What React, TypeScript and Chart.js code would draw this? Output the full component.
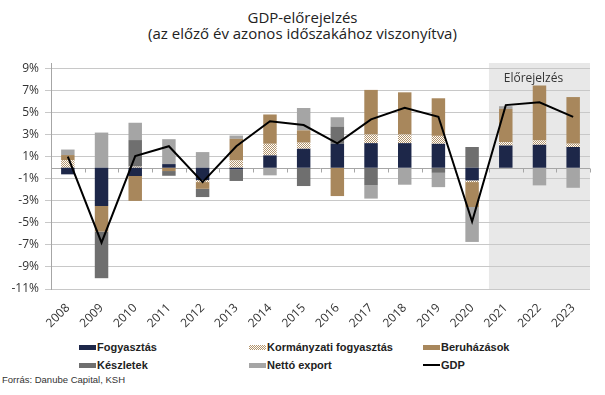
import React, { useEffect, useRef } from 'react';
import { Chart, registerables } from 'chart.js';

Chart.register(...registerables);

const years = ['2008', '2009', '2010', '2011', '2012', '2013', '2014', '2015', '2016', '2017', '2018', '2019', '2020', '2021', '2022', '2023'];
const fogyasztas = [-0.6, -3.47, -0.75, 0.33, -1.12, -0.15, 1.12, 1.72, 2.17, 2.23, 2.23, 2.17, -1.15, 2.02, 2.08, 1.88];
const kormanyzati = [0.69, 0, 0.1, 0, -0.18, 0.66, 1.05, 0.55, 0, 0.78, 0.78, 0.72, -0.15, 0.3, 0.4, 0.3];
const beruhazasok = [0.46, -2.32, -2.26, -0.3, -0.61, 1.96, 2.66, 1.12, -2.57, 4.05, 3.83, 3.41, -2.26, 3.02, 4.98, 4.23];
const keszletek = [0, -4.23, 2.41, -0.43, -0.75, -1.05, 0, -1.66, 1.57, -1.6, 0, -0.46, 1.88, 0, 0, 0];
const nettoExport = [0.5, 3.19, 1.57, 2.26, 1.42, 0.3, -0.69, 2.03, 0.84, -1.2, -1.54, -1.3, -3.17, 0.24, -1.6, -1.82];
const gdp = [1.0, -6.8, 1.05, 1.95, -1.3, 1.95, 4.22, 3.87, 2.22, 4.39, 5.44, 4.62, -4.88, 5.68, 5.93, 4.62];
const yTicks = [9, 7, 5, 3, 1, -1, -3, -5, -7, -9, -11];
const forecastFrom = '2021';
const forecastLabel = 'Előrejelzés';

const NAVY = '#1d2749';
const TAN = '#a8875c';
const DARK = '#6f6f6f';
const LIGHT = '#a5a5a5';
const FONT = "'Open Sans', 'DejaVu Sans', sans-serif";
const LEG_FONT = "'Liberation Sans', Arial, sans-serif";

function makeHatch(): CanvasPattern | string {
  const c = document.createElement('canvas');
  c.width = 2;
  c.height = 2;
  const g = c.getContext('2d');
  if (!g) return '#d9c6ab';
  g.fillStyle = '#ffffff';
  g.fillRect(0, 0, 2, 2);
  g.fillStyle = '#b3946b';
  g.fillRect(0, 0, 1, 1);
  g.fillRect(1, 1, 1, 1);
  const p = g.createPattern(c, 'repeat');
  return p || '#d9c6ab';
}

const forecastPlugin = {
  id: 'forecastShade',
  beforeDraw(chart: any) {
    const { ctx, chartArea, scales } = chart;
    const x = scales.x;
    const idx = years.indexOf(forecastFrom);
    const left = (x.getPixelForValue(idx - 1) + x.getPixelForValue(idx)) / 2;
    ctx.save();
    ctx.fillStyle = '#e8e8e8';
    ctx.fillRect(left, chartArea.top, chartArea.right - left, chartArea.bottom - chartArea.top);
    ctx.restore();
  },
  afterDatasetsDraw(chart: any) {
    const { ctx, chartArea, scales } = chart;
    const x = scales.x;
    const idx = years.indexOf(forecastFrom);
    const left = (x.getPixelForValue(idx - 1) + x.getPixelForValue(idx)) / 2;
    ctx.save();
    ctx.fillStyle = '#333333';
    ctx.font = `12px ${FONT}`;
    ctx.textAlign = 'center';
    ctx.textBaseline = 'middle';
    ctx.fillText(forecastLabel, (left + chartArea.right) / 2 - 6, chartArea.top + 16);
    ctx.restore();
  },
};

const zeroLinePlugin = {
  id: 'zeroLine',
  beforeDatasetsDraw(chart: any) {
    const { ctx, chartArea, scales } = chart;
    const y0 = Math.round(scales.y.getPixelForValue(0)) + 0.5;
    const x = scales.x;
    ctx.save();
    ctx.strokeStyle = '#a6a6a6';
    ctx.lineWidth = 1;
    ctx.beginPath();
    ctx.moveTo(chartArea.left, y0);
    ctx.lineTo(chartArea.right, y0);
    for (let i = 0; i <= years.length; i++) {
      let bx: number;
      if (i === 0) bx = chartArea.left;
      else if (i === years.length) bx = chartArea.right;
      else bx = (x.getPixelForValue(i - 1) + x.getPixelForValue(i)) / 2;
      bx = Math.round(bx) + 0.5;
      ctx.moveTo(bx, y0);
      ctx.lineTo(bx, y0 + 4);
    }
    ctx.stroke();
    ctx.restore();
  },
};

export default function App() {
  const ref = useRef<HTMLCanvasElement | null>(null);
  const hatchRef = useRef<HTMLSpanElement | null>(null);

  useEffect(() => {
    if (!ref.current) return;
    const hatch = makeHatch();
    const chart = new Chart(ref.current, {
      type: 'bar',
      data: {
        labels: years,
        datasets: [
          {
            type: 'line',
            label: 'GDP',
            data: gdp,
            borderColor: '#000000',
            backgroundColor: '#000000',
            borderWidth: 2,
            pointRadius: 0,
            tension: 0,
            fill: false,
            stack: 'gdp',
            order: 0,
          } as any,
          { label: 'Fogyasztás', data: fogyasztas, backgroundColor: NAVY, stack: 's', order: 1 },
          { label: 'Kormányzati fogyasztás', data: kormanyzati, backgroundColor: hatch as any, stack: 's', order: 1 },
          { label: 'Beruházások', data: beruhazasok, backgroundColor: TAN, stack: 's', order: 1 },
          { label: 'Készletek', data: keszletek, backgroundColor: DARK, stack: 's', order: 1 },
          { label: 'Nettó export', data: nettoExport, backgroundColor: LIGHT, stack: 's', order: 1 },
        ],
      },
      options: {
        responsive: false,
        animation: false,
        layout: { padding: { top: 63, right: 15, left: 0, bottom: 0 } },
        datasets: { bar: { barPercentage: 0.4, categoryPercentage: 1.0 } },
        plugins: {
          legend: { display: false },
          title: { display: false },
          tooltip: { enabled: false },
        },
        scales: {
          x: {
            stacked: true,
            grid: { display: false },
            border: { display: false },
            ticks: {
              minRotation: 45,
              maxRotation: 45,
              autoSkip: false,
              padding: 4,
              color: '#333333',
              font: { size: 12, family: FONT },
            },
            afterFit: (s: any) => {
              s.height = 46;
            },
          },
          y: {
            stacked: true,
            min: -11,
            max: 9.5,
            afterBuildTicks: (s: any) => {
              s.ticks = yTicks.map((v) => ({ value: v }));
            },
            grid: { color: '#c8c8c8', tickLength: 6, lineWidth: 1 },
            border: { color: '#a6a6a6' },
            ticks: {
              padding: 6,
              color: '#333333',
              font: { size: 12, family: FONT },
              callback: (v: any) => `${v}%`,
            },
            afterFit: (s: any) => {
              s.width = 51;
            },
          },
        },
      },
      plugins: [forecastPlugin, zeroLinePlugin],
    });
    if (hatchRef.current) {
      hatchRef.current.style.backgroundImage =
        'repeating-conic-gradient(#b3946b 0% 25%, #ffffff 0% 50%)';
      hatchRef.current.style.backgroundSize = '2px 2px';
    }
    return () => chart.destroy();
  }, []);

  const legendItems = [
    { label: 'Fogyasztás', color: NAVY, x: 79, row: 0 },
    { label: 'Kormányzati fogyasztás', color: 'hatch', x: 249, row: 0 },
    { label: 'Beruházások', color: TAN, x: 423, row: 0 },
    { label: 'Készletek', color: DARK, x: 79, row: 1 },
    { label: 'Nettó export', color: LIGHT, x: 249, row: 1 },
    { label: 'GDP', color: 'line', x: 423, row: 1 },
  ];

  return (
    <div style={{ position: 'fixed', left: 0, top: 0, width: 605, height: 395, background: '#ffffff', overflow: 'hidden' }}>
      <div style={{ position: 'absolute', left: 0, top: 8, width: 605, textAlign: 'center', font: `15px/18px ${FONT}`, color: '#222222' }}>
        GDP-előrejelzés
      </div>
      <div style={{ position: 'absolute', left: 0, top: 24, width: 605, textAlign: 'center', font: `15px/18px ${FONT}`, color: '#222222' }}>
        (az előző év azonos időszakához viszonyítva)
      </div>
      <canvas ref={ref} width={605} height={335} style={{ position: 'absolute', left: 0, top: 0, width: 605, height: 335 }} />
      {legendItems.map((it) => {
        const cy = it.row === 0 ? 347 : 365;
        return (
          <div key={it.label} style={{ position: 'absolute', left: it.x, top: cy - 7, height: 14, display: 'flex', alignItems: 'center', whiteSpace: 'nowrap' }}>
            {it.color === 'line' ? (
              <span style={{ display: 'inline-block', width: 17, height: 2, background: '#000000' }} />
            ) : it.color === 'hatch' ? (
              <span ref={hatchRef} style={{ display: 'inline-block', width: 17, height: 5, background: '#d9c6ab' }} />
            ) : (
              <span style={{ display: 'inline-block', width: 17, height: 5, background: it.color }} />
            )}
            <span style={{ marginLeft: 1, font: `bold 11px ${LEG_FONT}`, color: '#222222' }}>{it.label}</span>
          </div>
        );
      })}
      <div style={{ position: 'absolute', left: 2, top: 374, font: `9.5px/12px ${LEG_FONT}`, color: '#333333' }}>
        Forrás: Danube Capital, KSH
      </div>
    </div>
  );
}
